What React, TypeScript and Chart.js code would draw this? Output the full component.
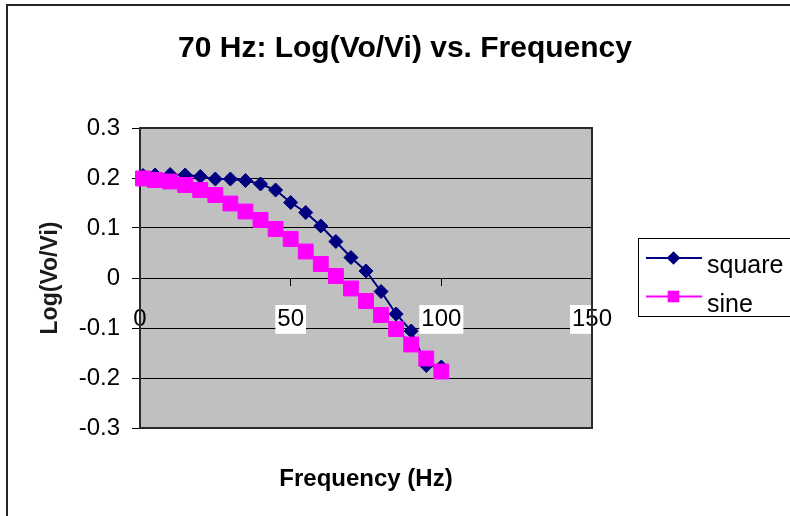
import { useEffect, useRef } from "react";
import { Chart, registerables } from "chart.js";

Chart.register(...registerables);

// Measured response at each drive frequency (Hz)
const frequencies = [1, 5, 10, 15, 20, 25, 30, 35, 40, 45, 50, 55, 60, 65, 70, 75, 80, 85, 90, 95, 100];
const squareLog = [0.205, 0.206, 0.207, 0.206, 0.203, 0.198, 0.198, 0.195, 0.188, 0.176, 0.151, 0.131, 0.104, 0.073, 0.041, 0.014, -0.027, -0.072, -0.106, -0.175, -0.178];
const sineLog = [0.199, 0.196, 0.193, 0.186, 0.176, 0.166, 0.149, 0.133, 0.116, 0.098, 0.078, 0.053, 0.028, 0.004, -0.021, -0.046, -0.074, -0.102, -0.133, -0.161, -0.187];

const seriesNames = ["square", "sine"];
const xTickValues = [0, 50, 100, 150];
const yTickValues = [-0.3, -0.2, -0.1, 0, 0.1, 0.2, 0.3];

const chartTitle = "70 Hz: Log(Vo/Vi) vs. Frequency";
const xTitle = "Frequency (Hz)";
const yTitle = "Log(Vo/Vi)";

const CANVAS_W = 810;
const CANVAS_H = 516;
const FAMILY = "'Liberation Sans', Arial, Helvetica, sans-serif";
const NAVY = "#000080";
const MAGENTA = "#FF00FF";
const PLOT_BG = "#C0C0C0";

// White page, outer chart frame, grey plot area and the chart title
const backdropPlugin = {
  id: "backdrop",
  beforeDraw(chart: any) {
    const { ctx, chartArea } = chart;
    ctx.save();
    ctx.fillStyle = "#ffffff";
    ctx.fillRect(0, 0, chart.width, chart.height);
    ctx.strokeStyle = "#262626";
    ctx.lineWidth = 2;
    ctx.strokeRect(7, 5, chart.width + 20, chart.height + 20);
    ctx.fillStyle = PLOT_BG;
    ctx.fillRect(chartArea.left, chartArea.top, chartArea.right - chartArea.left, chartArea.bottom - chartArea.top);
    ctx.fillStyle = "#000";
    ctx.font = `bold 30px ${FAMILY}`;
    ctx.textAlign = "center";
    ctx.textBaseline = "middle";
    ctx.fillText(chartTitle, chart.width / 2, 49);
    ctx.restore();
  },
};

// Frame around the plot area, drawn under the series
const plotFramePlugin = {
  id: "plotFrame",
  beforeDatasetsDraw(chart: any) {
    const { ctx, chartArea } = chart;
    ctx.save();
    ctx.strokeStyle = "#2a2a2a";
    ctx.lineWidth = 2;
    ctx.strokeRect(chartArea.left, chartArea.top, chartArea.right - chartArea.left, chartArea.bottom - chartArea.top);
    ctx.restore();
  },
};

function drawMarker(ctx: CanvasRenderingContext2D, style: string, x: number, y: number, r: number) {
  ctx.beginPath();
  if (style === "rectRot") {
    ctx.moveTo(x - r, y);
    ctx.lineTo(x, y - r);
    ctx.lineTo(x + r, y);
    ctx.lineTo(x, y + r);
    ctx.closePath();
  } else {
    const h = r * Math.SQRT1_2;
    ctx.rect(x - h, y - h, 2 * h, 2 * h);
  }
  ctx.fill();
}

// Legend box at the right: line sample with marker, then series name
const legendPlugin = {
  id: "sideLegend",
  afterDraw(chart: any) {
    const { ctx } = chart;
    ctx.save();
    ctx.strokeStyle = "#000";
    ctx.lineWidth = 1;
    ctx.strokeRect(638.5, 238.5, 200, 78);
    chart.data.datasets
      .slice()
      .sort((a: any, b: any) => seriesNames.indexOf(a.label) - seriesNames.indexOf(b.label))
      .forEach((ds: any, i: number) => {
        const y = 258 + i * 38.5;
        ctx.strokeStyle = ds.borderColor;
        ctx.lineWidth = 2;
        ctx.beginPath();
        ctx.moveTo(646, y);
        ctx.lineTo(702, y);
        ctx.stroke();
        ctx.fillStyle = ds.pointBackgroundColor;
        drawMarker(ctx, ds.pointStyle, 673.5, y, ds.pointStyle === "rectRot" ? 6.8 : 8.2);
        ctx.fillStyle = "#000";
        ctx.font = `25px ${FAMILY}`;
        ctx.textAlign = "left";
        ctx.textBaseline = "alphabetic";
        ctx.fillText(ds.label, 707, y + 15);
      });
    ctx.restore();
  },
};

const fmt = (v: number) => String(Number(v.toFixed(1)));

export default function App() {
  const canvasRef = useRef<HTMLCanvasElement | null>(null);

  useEffect(() => {
    const canvas = canvasRef.current;
    if (!canvas) return;
    const chart = new Chart(canvas, {
      type: "line",
      data: {
        datasets: [
          {
            label: seriesNames[0],
            data: frequencies.map((f, i) => ({ x: f, y: squareLog[i] })),
            borderColor: NAVY,
            borderWidth: 2,
            backgroundColor: NAVY,
            pointStyle: "rectRot",
            pointRadius: 7,
            pointBackgroundColor: NAVY,
            pointBorderColor: NAVY,
            pointBorderWidth: 1,
            tension: 0,
            clip: false,
            order: 1,
          },
          {
            label: seriesNames[1],
            data: frequencies.map((f, i) => ({ x: f, y: sineLog[i] })),
            borderColor: MAGENTA,
            borderWidth: 2,
            backgroundColor: MAGENTA,
            pointStyle: "rect",
            pointRadius: 10.5,
            pointBackgroundColor: MAGENTA,
            pointBorderColor: MAGENTA,
            pointBorderWidth: 1,
            tension: 0,
            clip: false,
            order: 0,
          },
        ],
      },
      options: {
        animation: false,
        responsive: false,
        devicePixelRatio: 1,
        layout: { padding: { left: 0, right: CANVAS_W - 592, top: 128, bottom: 0 } },
        plugins: {
          legend: { display: false },
          tooltip: { enabled: false },
          title: { display: false },
          subtitle: {
            display: true,
            position: "bottom",
            fullSize: false,
            text: xTitle,
            color: "#000",
            font: { family: FAMILY, size: 24, weight: "bold" },
            padding: { top: 37, bottom: 22.2 },
          },
        },
        scales: {
          x: {
            type: "linear",
            position: { y: 0 },
            min: 0,
            max: 150,
            afterBuildTicks: (s: any) => {
              s.ticks = xTickValues.map((v) => ({ value: v }));
            },
            afterFit: (s: any) => {
              s.height = 0;
            },
            grid: { drawOnChartArea: false, drawTicks: true, tickLength: 7, color: "#000", lineWidth: 1 },
            border: { display: true, color: "#000", width: 1 },
            ticks: {
              color: "#000",
              font: { family: FAMILY, size: 24 },
              padding: 20,
              maxRotation: 0,
              autoSkip: false,
              showLabelBackdrop: true,
              backdropColor: (c: any) => (c.tick && c.tick.value === 0 ? "rgba(255,255,255,0)" : "#ffffff"),
              backdropPadding: { left: 2, right: 2, top: 0, bottom: 0 },
              callback: (v: any) => fmt(Number(v)),
            },
          },
          y: {
            type: "linear",
            position: "left",
            min: -0.3,
            max: 0.3,
            afterBuildTicks: (s: any) => {
              s.ticks = yTickValues.map((v) => ({ value: v }));
            },
            afterFit: (s: any) => {
              s.width = 140;
            },
            grid: { color: "#000", lineWidth: 1, drawTicks: true, tickLength: 8 },
            border: { display: true, color: "#000", width: 1 },
            ticks: {
              color: "#000",
              font: { family: FAMILY, size: 24 },
              padding: 12,
              callback: (v: any) => fmt(Number(v)),
            },
            title: {
              display: true,
              text: yTitle,
              color: "#1a1a1a",
              font: { family: FAMILY, size: 23, weight: "bold" },
              padding: { top: 37, bottom: 0 },
            },
          },
        },
      } as any,
      plugins: [backdropPlugin, plotFramePlugin, legendPlugin],
    });
    return () => chart.destroy();
  }, []);

  return (
    <div
      style={{
        position: "fixed",
        left: 0,
        top: 0,
        width: 790,
        height: 516,
        overflow: "hidden",
        background: "#fff",
      }}
    >
      <canvas ref={canvasRef} width={CANVAS_W} height={CANVAS_H} style={{ display: "block" }} />
    </div>
  );
}
